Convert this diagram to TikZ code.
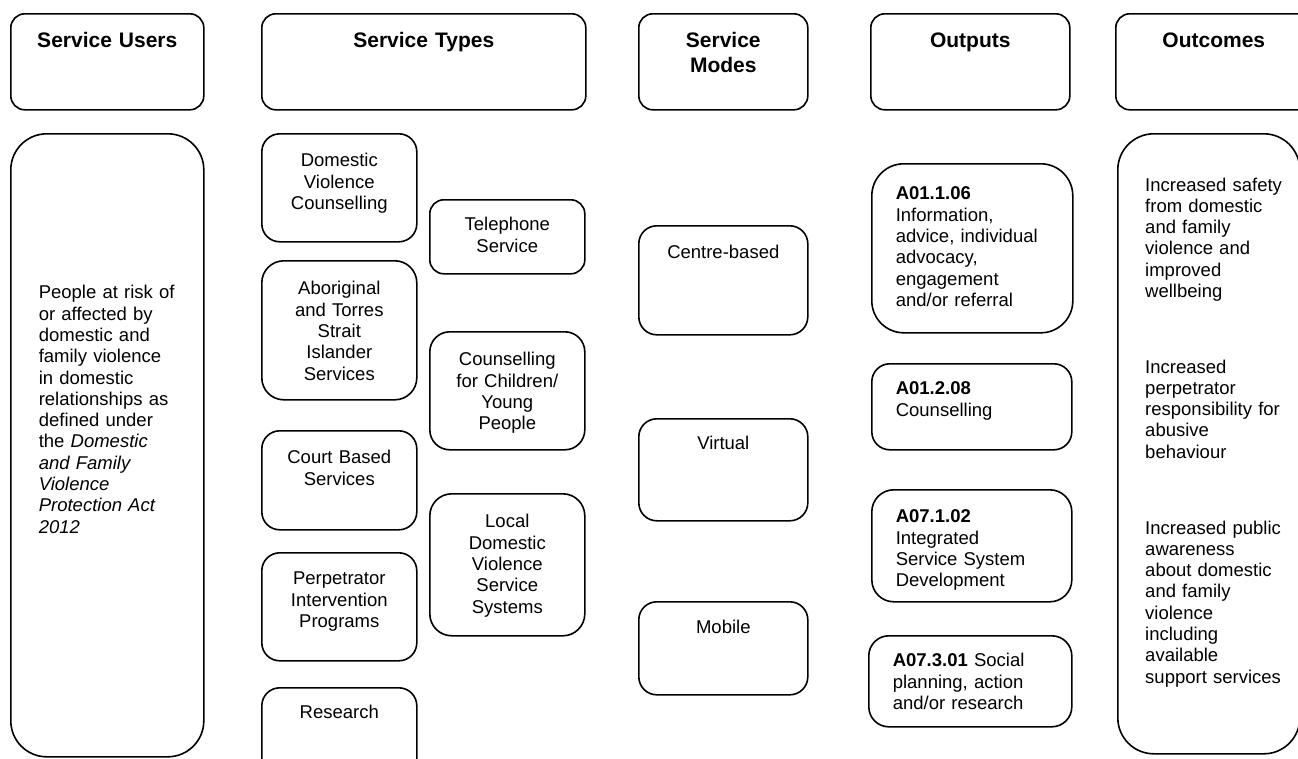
\documentclass[tikz,border=0pt]{standalone}
\usepackage{fontspec}
\setmainfont{Liberation Sans}

\begin{document}
\begin{tikzpicture}[x=1pt,y=-1pt,
	box/.style={draw,line width=1.6pt,rounded corners=#1,inner sep=0pt,anchor=north west},
	box/.default=18pt,
	head/.style={box=14pt,font=\fontsize{21}{25}\selectfont\bfseries,align=center,text height=34pt,text depth=62pt},
	body/.style={font=\fontsize{18.5}{21.3}\selectfont},
	mid/.style={box=#1,body,align=center},
	mid/.default=18pt,
	code/.style={box=#1,body,align=left,inner xsep=24pt},
	code/.default=20pt,
	note/.style={body,align=left,inner sep=0pt,text width=150pt,anchor=base west}]
	\clip (0,0) rectangle (1298,758);
	\draw (10,13) node (su) [head,text width=193pt] {Service Users};
	\draw (261,13) node (st) [head,text width=324pt] {Service Types};
	\draw (638,13) node (sm) [head,text width=169pt] {Service\\Modes};
	\draw (870,13) node (op) [head,text width=199pt] {Outputs};
	\draw (1115,13) node (oc) [head,text width=196pt] {Outcomes};
	
	\draw (10,133) node (pu) [box=36pt,body,align=left,inner xsep=28pt,text width=137pt,text height=165pt,text depth=458pt] {People at risk of\\or affected by\\domestic and\\family violence\\in domestic\\relationships as\\defined under\\the \textit{Domestic}\\\textit{and Family}\\\textit{Violence}\\\textit{Protection Act}\\\textit{2012}};
	
	\draw (261,133) node (dvc) [mid,text width=155pt,text height=33pt,text depth=75pt] {Domestic\\Violence\\Counselling};
	\draw (429,199) node (tel) [mid=14pt,text width=155pt,text height=31pt,text depth=43pt] {Telephone\\Service};
	\draw (261,260) node (atsi) [mid=22pt,text width=155pt,text height=34pt,text depth=105pt] {Aboriginal\\and Torres\\Strait\\Islander\\Services};
	\draw (429,331) node (cfc) [mid=20pt,text width=155pt,text height=34pt,text depth=84pt] {Counselling\\for Children/\\Young\\People};
	\draw (261,430) node (cbs) [mid,text width=155pt,text height=33pt,text depth=66pt] {Court Based\\Services};
	\draw (429,493) node (ldv) [mid=22pt,text width=155pt,text height=34pt,text depth=108pt] {Local\\Domestic\\Violence\\Service\\Systems};
	\draw (261,552) node (pip) [mid,text width=155pt,text height=32pt,text depth=76pt] {Perpetrator\\Intervention\\Programs};
	\draw (261,687) node (res) [mid,text width=155pt,text height=31pt,text depth=60pt] {Research};
	
	\draw (638,225) node (cb) [mid,text width=169pt,text height=33pt,text depth=76pt] {Centre-based};
	\draw (638,418) node (vi) [mid,text width=169pt,text height=31pt,text depth=71pt] {Virtual};
	\draw (638,601) node (mo) [mid,text width=169pt,text height=32pt,text depth=61pt] {Mobile};
	
	\draw (871,163) node (o1) [code=32pt,text width=153pt,text height=36pt,text depth=133pt] {\textbf{A01.1.06}\\Information,\\advice, individual\\advocacy,\\engagement\\and/or referral};
	\draw (871,363) node (o2) [code=18pt,text width=152pt,text height=31pt,text depth=55pt] {\textbf{A01.2.08}\\Counselling};
	\draw (871,489) node (o3) [code=22pt,text width=152pt,text height=33pt,text depth=79pt] {\textbf{A07.1.02}\\Integrated\\Service System\\Development};
	\draw (868,635) node (o4) [code,text width=155pt,text height=31pt,text depth=60pt] {\textbf{A07.3.01} Social\\planning, action\\and/or research};
	
	\draw (1117,133) node (out) [box=36pt,minimum width=182pt,minimum height=620pt] {};
	\node (oc1) [note] at (1145,191) {Increased safety\\from domestic\\and family\\violence and\\improved\\wellbeing};
	\node (oc2) [note] at (1145,373) {Increased\\perpetrator\\responsibility for\\abusive\\behaviour};
	\node (oc3) [note] at (1145,534) {Increased public\\awareness\\about domestic\\and family\\violence\\including\\available\\support services};
\end{tikzpicture}
\end{document}
